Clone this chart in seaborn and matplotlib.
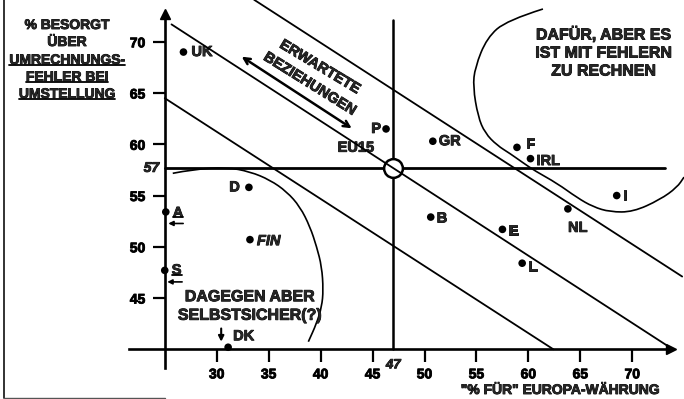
import matplotlib
matplotlib.use("Agg")
import matplotlib.pyplot as plt
from matplotlib.lines import Line2D
from matplotlib.path import Path
from matplotlib.patches import PathPatch
from matplotlib.transforms import offset_copy
import matplotlib.patheffects as pe
import seaborn as sns
import pandas as pd

# x = "% für" Europa-Währung, y = % besorgt über Umrechnungsfehler
countries = ["UK", "D", "A", "FIN", "S", "DK", "P", "GR", "F", "IRL", "I", "NL", "B", "E", "L"]
pct_for = [26.8, 33.1, 25.1, 33.2, 25.0, 31.1, 46.3, 50.8, 58.9, 60.2, 68.5, 63.8, 50.6, 57.5, 59.4]
pct_worried = [69.0, 55.8, 53.4, 50.7, 47.7, 40.2, 61.5, 60.3, 59.7, 58.6, 55.0, 53.7, 52.9, 51.7, 48.4]

# EU15 average (position as drawn in the original, labelled 47 / 57)
eu15_for = 47.0
eu15_worried = 57.7
eu15_labels = ["47", "57"]

x_ticks = [30, 35, 40, 45, 50, 55, 60, 65, 70]
y_ticks = [45, 50, 55, 60, 65, 70]

# parallel "expected relationship" lines
trend_x0 = [33.6, 25.65, 25.0]
trend_y0 = [74.1, 71.7, 64.5]
trend_x1 = [74.8, 73.9, 62.4]
trend_y1 = [47.1, 40.0, 40.0]

# hand drawn region boundaries
against_x = [25.77, 27.75, 30.96, 33.20, 35.13, 36.74, 38.02, 38.98, 39.62, 40.11, 40.26, 40.11, 39.62, 38.82]
against_y = [57.17, 57.56, 57.76, 57.33, 56.52, 55.38, 53.91, 51.96, 50.01, 48.06, 45.79, 44.16, 42.54, 40.74]
favour_x = [61.40, 57.94, 56.01, 54.86, 54.67, 55.15, 55.82, 56.98, 58.23, 59.48, 60.64, 62.75,
            64.68, 66.22, 67.86, 70.07, 72.67, 74.31, 74.98]
favour_y = [73.2, 72.1, 70.4, 67.5, 65.6, 62.7, 61.1, 59.9, 59.1, 58.2, 57.4, 56.2,
            54.8, 53.9, 53.4, 53.4, 54.6, 55.8, 56.8]

# label offsets in pixels (dx, dy, ha)
label_pos = {
    "UK": (8, 0, "left"), "D": (-9, 0, "right"), "A": (7, -1, "left"),
    "FIN": (7, -1.5, "left"), "S": (7, 0, "left"), "DK": (5, 11, "left"),
    "P": (-5, 0, "right"), "GR": (6, 0, "left"), "F": (9, 3, "left"),
    "IRL": (6, -2.4, "left"), "I": (6, 0, "left"), "NL": (10, -19, "center"),
    "B": (6, -1.4, "left"), "E": (6, -1.7, "left"), "L": (6, -3.4, "left"),
}

W, H = 684, 399
bold_fx = [pe.withStroke(linewidth=0.6, foreground="black")]

sns.set_theme(style="white")
plt.rcParams["font.family"] = ["Liberation Sans", "DejaVu Sans"]
plt.rcParams["font.weight"] = "bold"

fig = plt.figure(figsize=(W / 100, H / 100), dpi=100)
ax = fig.add_axes([0, 0, 1, 1])
ax.set_xlim(9.143, 74.976)
ax.set_ylim(35.151, 74.078)
ax.set_facecolor("white")

ax.spines["top"].set_visible(False)
ax.spines["right"].set_visible(False)
ax.spines["left"].set_position(("data", 25))
ax.spines["bottom"].set_position(("data", 40))
ax.spines["left"].set_bounds(38.2, 72.6)
ax.spines["bottom"].set_bounds(21.6, 73.6)
for s in ["left", "bottom"]:
    ax.spines[s].set_linewidth(1.9)
    ax.spines[s].set_color("black")
ax.plot([25], [72.75], marker="^", ms=7, color="black", clip_on=False)
ax.plot([73.75], [40], marker=">", ms=7, color="black", clip_on=False)

ax.set_xticks(x_ticks)
ax.set_xticklabels([str(t) for t in x_ticks], fontsize=10, fontweight="bold")
ax.set_yticks(y_ticks)
ax.set_yticklabels([str(t) for t in y_ticks], fontsize=10, fontweight="bold")
ax.tick_params(axis="both", bottom=True, left=True, direction="out", length=9,
               width=1.6, color="black", labelcolor="black")
ax.tick_params(axis="x", pad=4)
ax.tick_params(axis="y", pad=5)
ax.grid(False)

# reference cross through EU15
ax.plot([25, 73.1], [eu15_worried, eu15_worried], color="black", lw=2)
ax.plot([eu15_for, eu15_for], [40, 72.1], color="black", lw=1.8)

for x0, y0, x1, y1 in zip(trend_x0, trend_y0, trend_x1, trend_y1):
    ax.plot([x0, x1], [y0, y1], color="black", lw=1.3, zorder=7)


def smooth_path(xs, ys):
    pts = list(zip(xs, ys))
    verts = [pts[0]]
    codes = [Path.MOVETO]
    for i in range(1, len(pts) - 1):
        mid = ((pts[i][0] + pts[i + 1][0]) / 2, (pts[i][1] + pts[i + 1][1]) / 2)
        verts += [pts[i], mid]
        codes += [Path.CURVE3, Path.CURVE3]
    verts.append(pts[-1])
    codes.append(Path.LINETO)
    return PathPatch(Path(verts, codes), fill=False, lw=1.2, edgecolor="black")


ax.add_patch(smooth_path(against_x, against_y))
ax.add_patch(smooth_path(favour_x, favour_y))

ax.plot([eu15_for], [eu15_worried], marker="o", ms=13.5, mfc="white", mec="black",
        mew=1.8, zorder=6)

df = pd.DataFrame({"land": countries, "fuer": pct_for, "besorgt": pct_worried})
sns.scatterplot(data=df, x="fuer", y="besorgt", ax=ax, color="black", s=30,
                edgecolor="none", zorder=8, clip_on=False)
ax.set_xlabel("")
ax.set_ylabel("")

labels = {}
for name, xv, yv in zip(countries, pct_for, pct_worried):
    dx, dy, ha = label_pos[name]
    labels[name] = ax.annotate(name, xy=(xv, yv), xytext=(dx * 0.72, dy * 0.72),
                               textcoords="offset points", ha=ha, va="center",
                               fontsize=10.5, fontweight="bold",
                               fontstyle="italic" if name == "FIN" else "normal")


def offset_arrow(xv, yv, tail, head, style="-|>", scale=7, lw=1.2):
    tr_tail = offset_copy(ax.transData, fig=fig, x=tail[0], y=tail[1], units="points")
    tr_head = offset_copy(ax.transData, fig=fig, x=head[0], y=head[1], units="points")
    ax.annotate("", xy=(xv, yv), xycoords=tr_head, xytext=(xv, yv), textcoords=tr_tail,
                arrowprops=dict(arrowstyle=style, lw=lw, color="black", shrinkA=0, shrinkB=0,
                                mutation_scale=scale))


# little arrows next to A, S, DK
for name in ["A", "S"]:
    i = countries.index(name)
    offset_arrow(pct_for[i], pct_worried[i], (12.5, -8.3), (1.8, -8.3))
i = countries.index("DK")
offset_arrow(pct_for[i], pct_worried[i], (-5, 13.5), (-5, 4), scale=8, lw=1.5)

# EU15 label and the 47 / 57 markers
ax.annotate("EU15", xy=(eu15_for, eu15_worried), xytext=(-27, 14.5), textcoords="offset points",
            ha="center", va="center", fontsize=10.5, fontweight="bold")
ax.annotate(eu15_labels[1], xy=(25, eu15_worried), xytext=(-4, 0), textcoords="offset points",
            ha="right", va="center", fontsize=10, fontweight="bold", fontstyle="italic")
ax.annotate(eu15_labels[0], xy=(eu15_for, 40), xytext=(0, -11.5), textcoords="offset points",
            ha="center", va="center", fontsize=9.5, fontweight="bold", fontstyle="italic")


def fig_text(xp, yp, s, **kw):
    kw.setdefault("ha", "center")
    kw.setdefault("va", "center")
    kw.setdefault("fontweight", "bold")
    return ax.annotate(s, xy=(xp, H - yp), xycoords="figure pixels", annotation_clip=False, **kw)


ylab = [
    fig_text(67, 25, "% BESORGT", fontsize=10),
    fig_text(67, 42, "ÜBER", fontsize=10),
    fig_text(67, 60, "UMRECHNUNGS-", fontsize=10),
    fig_text(67, 77, "FEHLER BEI", fontsize=10),
    fig_text(67, 94, "UMSTELLUNG", fontsize=10),
]
fig_text(560, 390, "\"% FÜR\" EUROPA-WÄHRUNG", fontsize=10)

fig_text(604, 52, "DAFÜR, ABER ES\nIST MIT FEHLERN\nZU RECHNEN", fontsize=11.5, linespacing=1.25)
fig_text(250, 306, "DAGEGEN ABER\nSELBSTSICHER(?)", fontsize=11.5, linespacing=1.3)

fig_text(320, 67, "ERWARTETE", fontsize=10.5, rotation=-31, rotation_mode="anchor")
fig_text(310, 84, "BEZIEHUNGEN", fontsize=10.5, rotation=-32, rotation_mode="anchor")
ax.annotate("", xy=(241.7, H - 56.7), xycoords="figure pixels",
            xytext=(351.7, H - 128.3), textcoords="figure pixels",
            arrowprops=dict(arrowstyle="<->", lw=1.8, color="black", shrinkA=0, shrinkB=0,
                            mutation_scale=11))

# heavier, scan-like lettering
for t in ax.texts + ax.get_xticklabels() + ax.get_yticklabels():
    t.set_path_effects(bold_fx)

# underlines
fig.canvas.draw()
inv = fig.transFigure.inverted()


def underline(t, lift=2.5):
    bb = t.get_window_extent()
    (x0, y0), (x1, _) = inv.transform([(bb.x0, bb.y0 + lift), (bb.x1, bb.y0 + lift)])
    fig.add_artist(Line2D([x0, x1], [y0, y0], transform=fig.transFigure, color="black", lw=1.3))


for t in ylab[2:]:
    underline(t)
underline(labels["A"])
underline(labels["S"])

# scan border
fig.add_artist(Line2D([3.5 / W, 3.5 / W], [1.5 / H, 1], transform=fig.transFigure, color="#222222", lw=1.3))
fig.add_artist(Line2D([3.5 / W, 165 / W], [1.5 / H, 1.5 / H], transform=fig.transFigure, color="#555555", lw=1.0))

fig.savefig("out.png", dpi=100, facecolor="white")
